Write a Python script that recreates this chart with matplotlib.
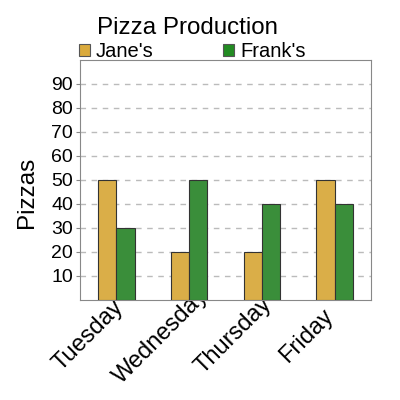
import matplotlib
matplotlib.use("Agg")
import matplotlib.pyplot as plt
import numpy as np
from matplotlib.patches import Patch
from matplotlib.transforms import ScaledTranslation

plt.rcParams['font.family'] = ['Liberation Sans', 'DejaVu Sans']

days = ["Tuesday", "Wednesday", "Thursday", "Friday"]
janes = [50, 20, 20, 50]
franks = [30, 50, 40, 40]
yticks = [10, 20, 30, 40, 50, 60, 70, 80, 90]

jane_color = "#DAAE48"
frank_color = "#3A8E3A"
jane_leg = "#DAAA3C"
frank_leg = "#228B22"

fig = plt.figure(figsize=(4, 4), dpi=100)
ax = fig.add_axes([0.2, 0.25, 0.7275, 0.6])

x = np.arange(len(days))
w = 0.25
ax.bar(x - w / 2, janes, width=w, color=jane_color, edgecolor="#333333", linewidth=0.8, zorder=3)
ax.bar(x + w / 2, franks, width=w, color=frank_color, edgecolor="#333333", linewidth=0.8, zorder=3)

ax.set_xlim(-0.5, len(days) - 0.5)
ax.set_ylim(0, 100)
ax.set_yticks(yticks)
ax.tick_params(axis='y', labelsize=14, length=3, color="#888888", pad=2)
ax.tick_params(axis='x', length=0, labelsize=17)
ax.yaxis.grid(True, linestyle=(0, (4, 4)), color="#BBBBBB", linewidth=1.0, zorder=0)
for s in ax.spines.values():
    s.set_color("#888888")

ax.set_xticks(x)
ax.set_xticklabels(days, rotation=45, ha='center', va='center', rotation_mode='anchor')
off = ScaledTranslation(-0.28, -0.31, fig.dpi_scale_trans)
for lbl in ax.get_xticklabels():
    lbl.set_transform(lbl.get_transform() + off)

ax.set_ylabel("Pizzas", fontsize=17.5)
ax.yaxis.set_label_coords(-0.145, 0.45)

fig.text(97 / 400, 1 - 28 / 400, "Pizza Production", fontsize=17.4, ha='left', va='center')

handles = [Patch(facecolor=jane_leg, edgecolor="#555555", linewidth=0.8),
           Patch(facecolor=frank_leg, edgecolor="#555555", linewidth=0.8)]
fig.legend(handles, ["Jane's", "Frank's"], ncol=2, frameon=False,
           loc='lower left', bbox_to_anchor=(79 / 400, 1 - 61 / 400),
           bbox_transform=fig.transFigure, fontsize=14.5,
           handlelength=0.55, handleheight=0.55, handletextpad=0.3,
           columnspacing=3.45, borderpad=0, borderaxespad=0)

fig.savefig("out.png", dpi=100)
